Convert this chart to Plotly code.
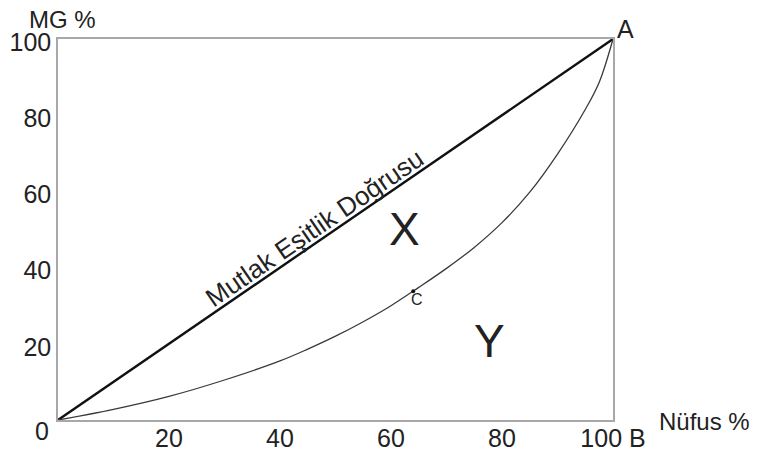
import plotly.graph_objects as go

# Lorenz curve data (population % vs income share %)
nufus = [0, 10, 20, 30, 40, 45, 50, 55, 60, 65, 70, 75, 80, 85, 90, 95, 97.5, 100]
mg = [0, 2.8, 6.2, 10.5, 15.5, 18.6, 22, 25.8, 30, 34.8, 39.8, 45.3, 51.8, 59.8, 69.8, 81.5, 88.6, 100]

esitlik_x = [0, 100]
esitlik_y = [0, 100]

c_point = (64, 33.8)

tick_vals = [20, 40, 60, 80, 100]
x_tick_text = ["20", "40", "60", "80", "100 B"]
y_tick_text = ["20", "40", "60", "80", "100"]

FONT = "Liberation Sans, Arial, sans-serif"
TXT = "#222222"

fig = go.Figure()

# absolute equality line
fig.add_trace(go.Scatter(
    x=esitlik_x, y=esitlik_y, mode="lines",
    line=dict(color="#111111", width=2.4), cliponaxis=False,
    hoverinfo="skip", showlegend=False,
))

# Lorenz curve
fig.add_trace(go.Scatter(
    x=nufus, y=mg, mode="lines",
    line=dict(color="#3a3a3a", width=1.3, shape="spline", smoothing=1.0),
    cliponaxis=False, hoverinfo="skip", showlegend=False,
))

# point C
fig.add_trace(go.Scatter(
    x=[c_point[0]], y=[c_point[1]], mode="markers",
    marker=dict(color="#111111", size=4), hoverinfo="skip", showlegend=False,
))

ann = []


def label(x, y, text, size=25, **kw):
    # axes run 0..100, so paper position = value / 100
    ann.append(dict(x=x / 100, y=y / 100, xref="paper", yref="paper", text=text,
                    xanchor="center", yanchor="middle", showarrow=False,
                    font=dict(family=FONT, size=size, color=TXT), **kw))


label(47.5, 47.5, "Mutlak Eşitlik Doğrusu", size=26, textangle=-34.4,
      xshift=-7, yshift=11)
label(62.5, 50.2, "X", size=46)
label(77.8, 20.8, "Y", size=46)
label(64.7, 31.6, "C", size=16)
label(102.2, 102.6, "A")
label(116.4, -0.4, "Nüfus %", size=24)
label(0.8, 105.0, "MG %", size=24)
label(-2.8, -2.9, "0")

axis_style = dict(range=[0, 100], tickvals=tick_vals,
                  showgrid=False, zeroline=False, showline=True, mirror=True,
                  linecolor="#a8a8a8", linewidth=1.5, ticks="", automargin=False,
                  tickfont=dict(size=25, color=TXT))

# the page body adds an 8px margin, so the figure is a bit smaller than the window
fig.update_layout(
    width=751, height=443,
    margin=dict(l=50, r=146, t=31, b=31),
    paper_bgcolor="white", plot_bgcolor="white",
    font=dict(family=FONT, size=25, color=TXT),
    annotations=ann,
    xaxis=dict(axis_style, ticktext=x_tick_text, ticklabelstandoff=-5),
    yaxis=dict(axis_style, ticktext=y_tick_text, ticklabelshift=3),
)

fig.write_html("out.html")
